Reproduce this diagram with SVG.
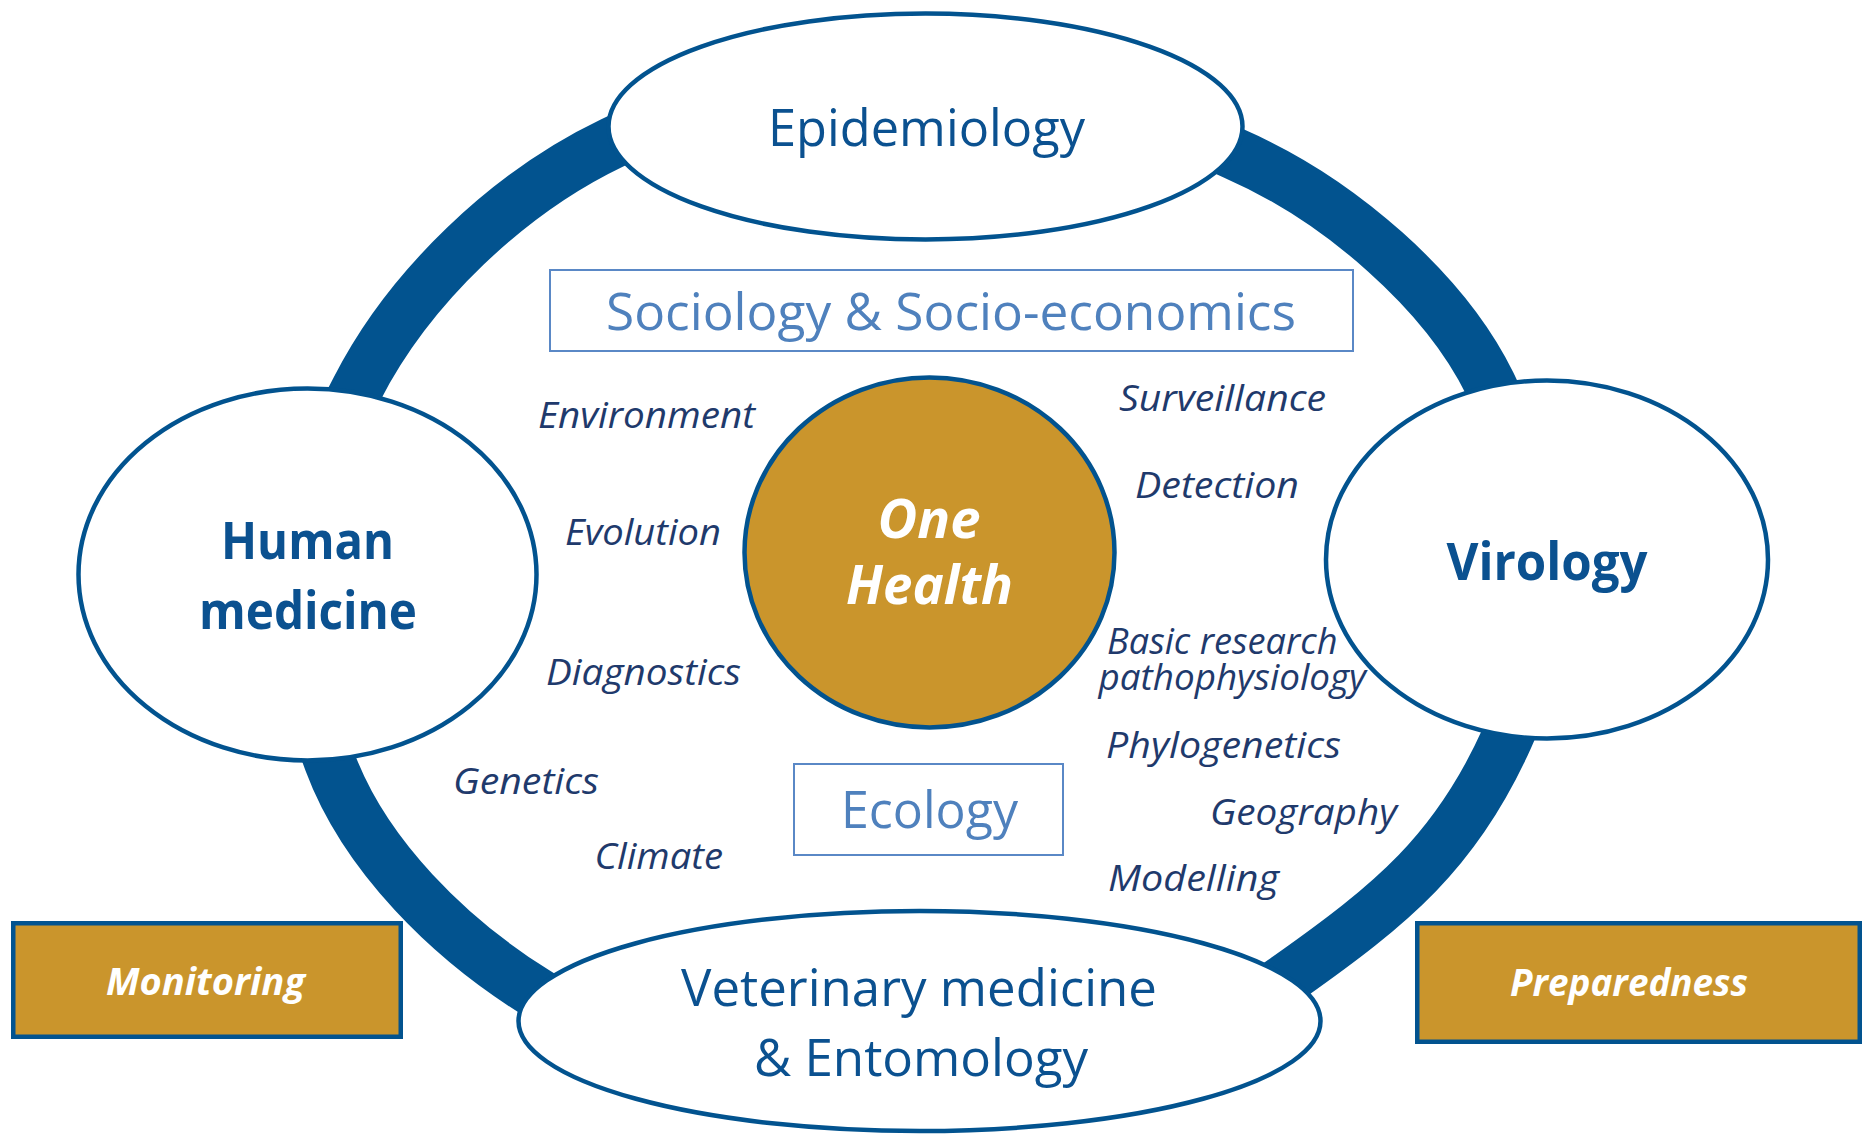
<svg xmlns="http://www.w3.org/2000/svg" width="1865" height="1135" viewBox="0 0 1865 1135">
  <style>
    text { font-family: "Open Sans", "Noto Sans", "DejaVu Sans", sans-serif; }
    .ring { fill: none; stroke: #02538F; stroke-width: 52; stroke-linecap: butt; }
    .disc { fill: #FFFFFF; stroke: #02538F; stroke-width: 4.5; }
    .core { fill: #CA952C; stroke: #02538F; stroke-width: 4.5; }
    .theme { fill: #FFFFFF; stroke: #5A88C6; stroke-width: 2; }
    .action { fill: #CA952C; stroke: #02538F; stroke-width: 4.5; }
    .disc-label { fill: #0B5190; font-size: 52px; text-anchor: middle; }
    .bold { font-weight: 700; }
    .theme-label { fill: #4F81BD; font-size: 52px; text-anchor: middle; }
    .core-label { fill: #FFFFFF; font-size: 53px; font-weight: 700; font-style: italic; text-anchor: middle; }
    .action-label { fill: #FFFFFF; font-size: 37px; font-weight: 700; font-style: italic; text-anchor: middle; }
    .topic { fill: #1F3A6C; font-size: 37px; font-style: italic; }
  </style>

  <rect width="1865" height="1135" fill="#FFFFFF"/>

  <!-- thick ring linking the four disciplines -->
  <g id="connectors">
    <path id="ring-human-epidemiology" class="ring" d="M 341 420 L 357 389 C 409 287 508.5 192.5 612 143 L 643.5 128"/>
    <path id="ring-epidemiology-virology" class="ring" d="M 1200 138 L 1235 154 C 1340 200 1445 292 1490 384 L 1507 420"/>
    <path id="ring-virology-veterinary" class="ring" d="M 1521 706 L 1507 738 C 1456 852 1391.5 904.5 1289 977 L 1260 997"/>
    <path id="ring-veterinary-human" class="ring" d="M 565 1011 L 535 992 C 450 939 365 856 330 762 L 318 729"/>
  </g>

  <g id="epidemiology">
    <ellipse class="disc" cx="925.5" cy="126.5" rx="317" ry="113"/>
    <text class="disc-label" x="926.5" y="146" textLength="317" lengthAdjust="spacingAndGlyphs">Epidemiology</text>
  </g>

  <g id="human-medicine">
    <ellipse class="disc" cx="307.5" cy="574.5" rx="229" ry="186"/>
    <text class="disc-label bold" x="307.5" y="559" textLength="173" lengthAdjust="spacingAndGlyphs">Human</text>
    <text class="disc-label bold" x="308" y="628.5" textLength="218" lengthAdjust="spacingAndGlyphs">medicine</text>
  </g>

  <g id="virology">
    <ellipse class="disc" cx="1547" cy="559.5" rx="221" ry="179"/>
    <text class="disc-label bold" x="1547" y="580" textLength="201" lengthAdjust="spacingAndGlyphs">Virology</text>
  </g>

  <g id="veterinary-medicine">
    <ellipse class="disc" cx="919.5" cy="1021" rx="401" ry="110"/>
    <text class="disc-label" x="919" y="1006" textLength="476" lengthAdjust="spacingAndGlyphs">Veterinary medicine</text>
    <text class="disc-label" x="921" y="1076" textLength="334" lengthAdjust="spacingAndGlyphs">&amp; Entomology</text>
  </g>

  <g id="sociology">
    <rect class="theme" x="550" y="270" width="803" height="81"/>
    <text class="theme-label" x="951" y="330" textLength="690" lengthAdjust="spacingAndGlyphs">Sociology &amp; Socio-economics</text>
  </g>

  <g id="one-health">
    <ellipse class="core" cx="929.5" cy="552.5" rx="185" ry="175"/>
    <text class="core-label" x="929" y="538" textLength="103" lengthAdjust="spacingAndGlyphs">One</text>
    <text class="core-label" x="929.5" y="604" textLength="167" lengthAdjust="spacingAndGlyphs">Health</text>
  </g>

  <g id="ecology">
    <rect class="theme" x="794" y="764" width="269" height="91"/>
    <text class="theme-label" x="929.5" y="828" textLength="177" lengthAdjust="spacingAndGlyphs">Ecology</text>
  </g>

  <g id="monitoring">
    <rect class="action" x="13.25" y="923.25" width="387.5" height="113.5"/>
    <text class="action-label" x="205.5" y="994.5" textLength="199" lengthAdjust="spacingAndGlyphs">Monitoring</text>
  </g>

  <g id="preparedness">
    <rect class="action" x="1417.25" y="923.25" width="442.5" height="118.5"/>
    <text class="action-label" x="1629" y="995.5" textLength="238" lengthAdjust="spacingAndGlyphs">Preparedness</text>
  </g>

  <!-- research topics around the One Health core -->
  <g id="topics">
    <text class="topic" x="538" y="428" textLength="217" lengthAdjust="spacingAndGlyphs">Environment</text>
    <text class="topic" x="565" y="545" textLength="156" lengthAdjust="spacingAndGlyphs">Evolution</text>
    <text class="topic" x="546" y="684.5" textLength="195" lengthAdjust="spacingAndGlyphs">Diagnostics</text>
    <text class="topic" x="453" y="794" textLength="146" lengthAdjust="spacingAndGlyphs">Genetics</text>
    <text class="topic" x="594.5" y="869" textLength="128.5" lengthAdjust="spacingAndGlyphs">Climate</text>
    <text class="topic" x="1119" y="411" textLength="207" lengthAdjust="spacingAndGlyphs">Surveillance</text>
    <text class="topic" x="1135" y="498" textLength="164" lengthAdjust="spacingAndGlyphs">Detection</text>
    <text class="topic"><tspan x="1107" y="654" textLength="230.5" lengthAdjust="spacingAndGlyphs">Basic research</tspan><tspan x="1098.5" y="690" textLength="267.5" lengthAdjust="spacingAndGlyphs">pathophysiology</tspan></text>
    <text class="topic" x="1106" y="758" textLength="235" lengthAdjust="spacingAndGlyphs">Phylogenetics</text>
    <text class="topic" x="1210" y="825" textLength="187" lengthAdjust="spacingAndGlyphs">Geography</text>
    <text class="topic" x="1108" y="891" textLength="171" lengthAdjust="spacingAndGlyphs">Modelling</text>
  </g>
</svg>
